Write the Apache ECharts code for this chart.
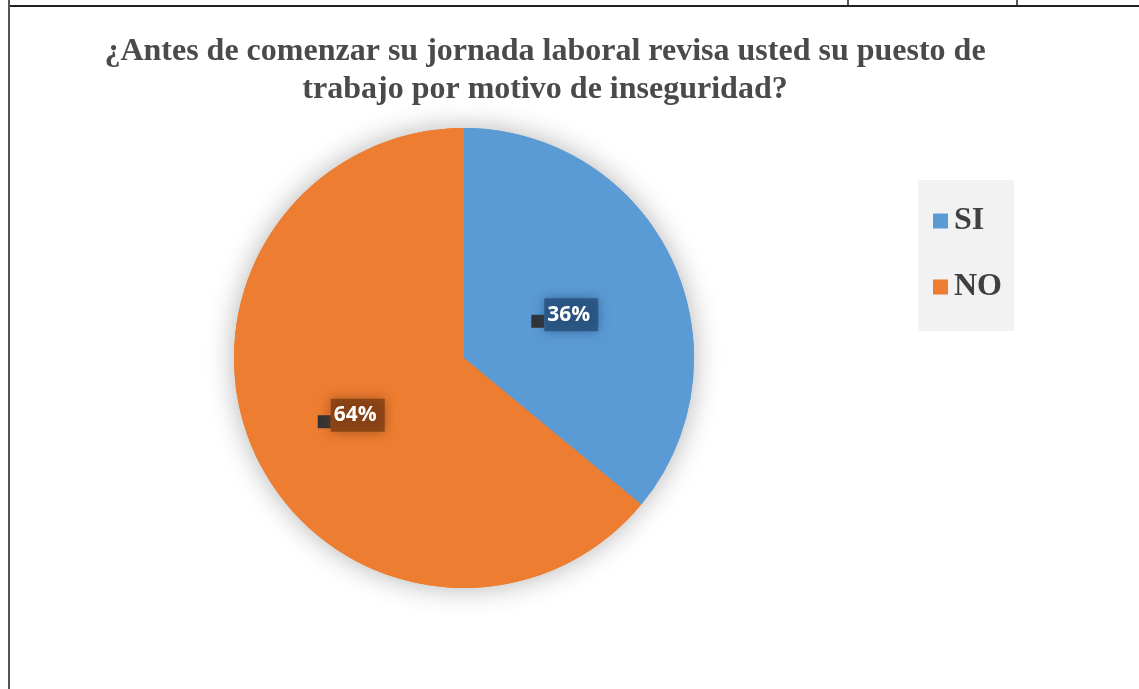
<!DOCTYPE html>
<html>
<head>
<meta charset="utf-8">
<script src="https://cdn.jsdelivr.net/npm/echarts@6/dist/echarts.min.js"></script>
<style>html,body{margin:0;padding:0;background:#fff}#c{width:1139px;height:689px}</style>
</head>
<body>
<div id="c"></div>
<script>
const titleText = '¿Antes de comenzar su jornada laboral revisa usted su puesto de\ntrabajo por motivo de inseguridad?';
const categories = ['SI', 'NO'];
const values = [36, 64];
const colors = ['#5B9BD5', '#ED7D31'];
const labelBg = ['rgba(36,78,122,0.8)', 'rgba(126,60,18,0.8)'];

const chart = echarts.init(document.getElementById('c'));
const dataMain = categories.map((c, i) => ({
  name: c, value: values[i],
  itemStyle: { color: colors[i] },
  label: { rich: { t: { backgroundColor: labelBg[i], shadowColor: labelBg[i], shadowBlur: 12 } } }
}));
const dataShadow = categories.map((c, i) => ({ name: c, value: values[i], itemStyle: { color: colors[i] } }));

chart.setOption({
  animation: false,
  title: {
    text: titleText, left: 540, top: 28, textAlign: 'center',
    textStyle: { fontFamily: 'Liberation Serif', fontWeight: 'bold', fontSize: 32, color: '#4a4a4a', lineHeight: 38 }
  },
  legend: {
    orient: 'vertical', left: 928, top: 200, itemGap: 34, itemWidth: 15, itemHeight: 15, icon: 'rect',
    data: categories,
    textStyle: { fontFamily: 'Liberation Serif', fontWeight: 'bold', fontSize: 32, color: '#404040', padding: [0, 0, 0, 1] }
  },
  graphic: [
    { type: 'rect', z: -10, shape: { x: 918, y: 180, width: 96, height: 151 }, style: { fill: '#f2f2f2' } },
    { type: 'line', shape: { x1: 9, y1: 6, x2: 1139, y2: 6 }, style: { stroke: '#222', lineWidth: 2 } },
    { type: 'line', shape: { x1: 9, y1: 0, x2: 9, y2: 689 }, style: { stroke: '#555', lineWidth: 2 } },
    { type: 'line', shape: { x1: 848, y1: 0, x2: 848, y2: 6 }, style: { stroke: '#222', lineWidth: 1.5 } },
    { type: 'line', shape: { x1: 1017, y1: 0, x2: 1017, y2: 6 }, style: { stroke: '#222', lineWidth: 1.5 } }
  ],
  series: [
    {
      type: 'pie', silent: true, center: [464, 358], radius: 230, startAngle: 90, clockwise: true,
      legendHoverLink: false, label: { show: false }, labelLine: { show: false },
      itemStyle: { shadowBlur: 28, shadowColor: 'rgba(0,0,0,0.3)' },
      data: dataShadow
    },
    {
      type: 'pie', center: [464, 358], radius: 230, startAngle: 90, clockwise: true,
      itemStyle: { borderWidth: 0 },
      label: {
        show: true, position: 'inside', padding: [14, 12, 0, 0],
        formatter: p => '{sq|}{t|' + p.value + '%}',
        rich: {
          sq: { width: 13, height: 13, backgroundColor: '#333', padding: 0, verticalAlign: 'bottom' },
          t: { color: '#fff', fontFamily: 'Open Sans', fontWeight: 'bold', fontSize: 21, padding: [6, 8, 6, 3], lineHeight: 26 }
        }
      },
      labelLine: { show: false },
      data: dataMain
    }
  ]
});
</script>
</body>
</html>
